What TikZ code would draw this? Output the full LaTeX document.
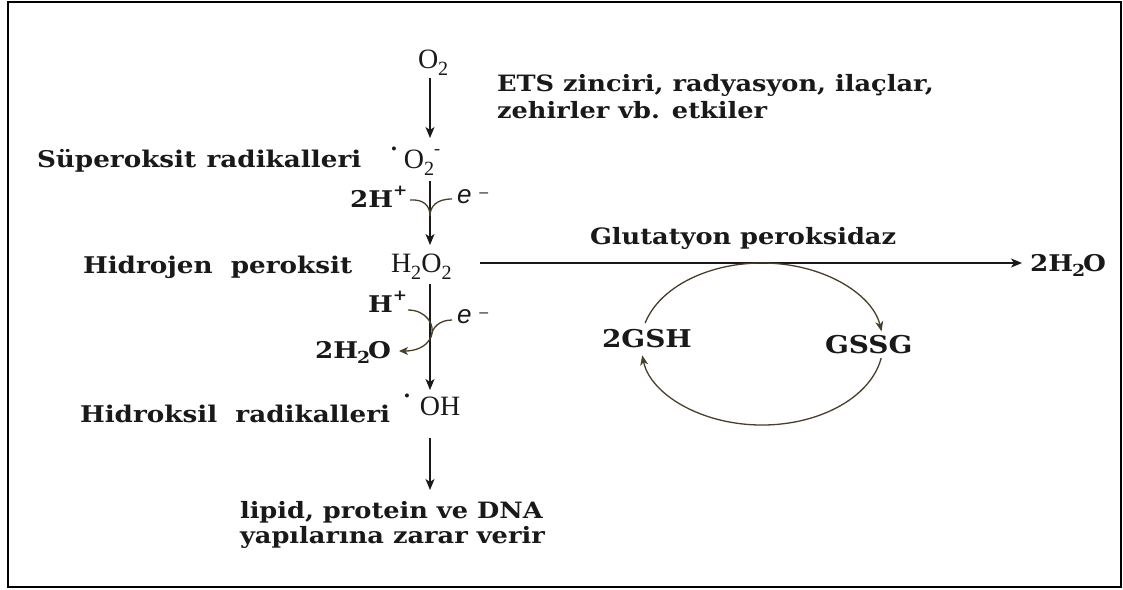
\documentclass[tikz,border=0pt]{standalone}
\usepackage{fontspec}
\usepackage{graphicx}
\setmainfont{DejaVu Serif}
\newfontfamily\txtfont{DejaVu Serif}[FakeStretch=1.14]
\newfontfamily\chemfont{Liberation Serif}
\newfontfamily\esansfont{Liberation Sans}
\usetikzlibrary{arrows.meta}
\newcommand{\lbl}{\txtfont\fontsize{23}{27}\selectfont\bfseries}
\newcommand{\sml}{\txtfont\fontsize{22.5}{27}\selectfont\bfseries}
\newcommand{\gsf}{\txtfont\fontsize{24.5}{27}\selectfont\bfseries}
\newcommand{\chm}{\chemfont\fontsize{28}{30}\selectfont}
\newcommand{\dn}[1]{\raisebox{-0.26em}{\scalebox{0.72}{#1}}}
\newcommand{\upp}[1]{\raisebox{0.5em}{\scalebox{0.65}{#1}}}
\newcommand{\rad}{\raisebox{0.5em}{\scalebox{0.6}{\textbullet}}}
\newcommand{\elec}{{\esansfont\fontsize{26}{28}\selectfont\itshape e}\hspace{8pt}\raisebox{0.55em}{\esansfont\fontsize{16}{18}\selectfont –}}
\definecolor{curvcol}{RGB}{72,62,44}
\definecolor{inkcol}{RGB}{25,25,25}
\begin{document}
\begin{tikzpicture}[x=1pt,y=-1pt,
  every node/.style={inner sep=0pt,outer sep=0pt,text=inkcol},
  chemn/.style={anchor=base west,text height=17pt,text depth=5pt},
  txtn/.style={anchor=base west},
  arr/.style={draw=inkcol,line width=1.5pt,-{Stealth[length=11pt,width=9pt,inset=3pt]}},
  curv/.style={draw=curvcol,line width=1.3pt},
  cyc/.style={draw=curvcol,line width=1.3pt,-{Stealth[length=10pt,width=8pt,inset=3pt]}}]
\useasboundingbox (0,0) rectangle (1123,589);
\draw[line width=2pt,black] (8,2) rectangle (1121,587);
% nodes
\node[chemn] (o2) at (418,68) {\chm O\dn{2}};
\node[txtn] (ets1) at (497,91) {\sml ETS zinciri, radyasyon, ilaçlar,};
\node[txtn] (ets2) at (497,118) {\sml zehirler vb. etkiler};
\node[txtn] (sup) at (37,167) {\lbl Süperoksit\hspace{0.45em}radikalleri};
\node[chemn] (supr) at (391,168) {\chm\rad\hspace{7pt}O\dn{2}\upp{-}};
\node[txtn] (h2p) at (350,207) {\lbl 2H\upp{+}};
\node[txtn] (e1) at (457,203) {\elec};
\node[txtn] (hyd) at (83,273) {\lbl Hidrojen\ \ peroksit};
\node[chemn] (h2o2) at (391,272) {\chm H\dn{2}O\dn{2}};
\node[txtn] (hp) at (368,312) {\lbl H\upp{+}};
\node[txtn] (e2) at (457,323) {\elec};
\node[txtn] (w1) at (315,358) {\lbl 2H\kern-1pt\dn{2}\kern-2pt O};
\node[txtn] (hyk) at (80,422) {\lbl Hidroksil\ \ radikalleri};
\node[chemn] (oh) at (404,415) {\chm\rad\hspace{10pt}OH};
\node[txtn,text height=16pt] (lip1) at (240,518) {\sml lipid, protein ve DNA};
\node[txtn] (lip2) at (240,543) {\sml yapılarına zarar verir};
\node[txtn] (glu) at (590,244) {\sml Glutatyon peroksidaz};
\node[txtn] (w2) at (1030,271) {\lbl 2H\kern-1pt\dn{2}\kern-2pt O};
\node[txtn] (gsh) at (602,347) {\gsf 2GSH};
\node[txtn] (gssg) at (825,353) {\gsf GSSG};
\coordinate (ax) at (430,0);
\coordinate (cc) at (762,344);
% main vertical arrows
\draw[arr,shorten <=5pt,shorten >=13pt] (o2.south -| ax) -- (supr.north -| ax);
\draw[arr,shorten <=8pt,shorten >=10pt] (supr.south -| ax) -- (h2o2.north -| ax);
\draw[arr,shorten <=7pt,shorten >=8pt] (h2o2.south -| ax) -- (oh.north -| ax);
\draw[arr,shorten <=18pt,shorten >=12pt] (oh.south -| ax) -- (lip1.north -| ax);
% horizontal arrow
\draw[arr,shorten <=28pt,shorten >=8pt] ([yshift=9pt]h2o2.base east) -- ([yshift=8pt]w2.base west);
% Y-shaped joining curves (2H+ and e-)
\coordinate (y1) at (430,216);
\draw[curv] (410,200) .. controls (424,199) and (430,206) .. (y1);
\draw[curv] (452,199) .. controls (437,199) and (430,206) .. (y1);
% H+ / e- curves giving 2H2O
\coordinate (y2) at (431,337);
\draw[curv,-{Stealth[length=9pt,width=8pt,inset=2.5pt]}] (408,310) .. controls (426,310) and (436,325) .. (y2) .. controls (426,348) and (414,351) .. (399,351);
\draw[curv] (452,320) .. controls (440,320) and (432,327) .. (y2);
% glutathione cycle
\draw[cyc] (cc) ++(195:121 and 81) arc[start angle=195,end angle=351,x radius=121,y radius=81];
\draw[cyc] (cc) ++(10:121 and 81) arc[start angle=10,end angle=172,x radius=121,y radius=81];
\end{tikzpicture}
\end{document}
